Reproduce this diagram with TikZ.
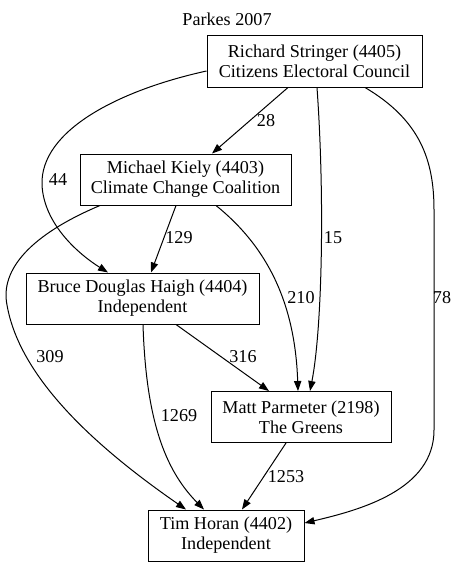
\documentclass[tikz,border=0pt]{standalone}
\usepackage{fontspec}
\setmainfont{Liberation Serif}
\usetikzlibrary{calc,arrows.meta}
\tikzset{
cand/.style = {draw, rectangle, align=center, line width=0.75pt, minimum height=51*0.75pt, inner sep=0pt, font=\fontsize{13.6}{15}\selectfont},
vote/.style = {line width=0.75pt, -{Triangle[length=7.5pt,width=5.5pt]}},
tally/.style = {font=\fontsize{13.6}{15}\selectfont}
}
\begin{document}
\begin{tikzpicture}[x=0.75pt,y=-0.75pt]
%
\fill[white] (0,0) rectangle (458,567);
\useasboundingbox (0,0) rectangle (458,567);
%
\node[tally] (title) at (227,19) {Parkes 2007};
%
\node[cand, minimum width=215*0.75pt] (RS) at (314.5,61.5) {Richard Stringer (4405)\\Citizens Electoral Council};
\node[cand, minimum width=211*0.75pt] (MK) at (185.5,179.5) {Michael Kiely (4403)\\Climate Change Coalition};
\node[cand, minimum width=233*0.75pt] (BDH) at (142.5,298.5) {Bruce Douglas Haigh (4404)\\Independent};
\node[cand, minimum width=180*0.75pt] (MP) at (301,417) {Matt Parmeter (2198)\\The Greens};
\node[cand, minimum width=156*0.75pt] (TH) at (226,535.5) {Tim Horan (4402)\\Independent};
%
% preferences
\draw[vote] ($(RS.south)+(-26.5,0)$) -- ($(MK.north)+(26.5,0)$);
\draw[vote] ($(RS.west)+(0,9.5)$) .. controls (120,90) and (40,130) .. (42,185)
  .. controls (44,225) and (80,255) .. ($(BDH.north)+(-34.5,0)$);
\draw[vote] ($(RS.south)+(2.5,0)$) .. controls (325,200) and (322,330) .. ($(MP.north)+(9,0)$);
\draw[vote] ($(RS.south)+(50.5,0)$) .. controls (420,120) and (434,160) .. (434,210) -- (434,430)
  .. controls (434,490) and (360,510) .. ($(TH.east)+(0,-12.5)$);
\draw[vote] ($(MK.south)+(-9.5,0)$) -- ($(BDH.north)+(8.5,0)$);
\draw[vote] ($(MK.south)+(30.5,0)$) .. controls (265,245) and (295,300) .. ($(MP.north)+(-3,0)$);
\draw[vote] ($(MK.south)+(-85.5,0)$) .. controls (30,235) and (0,270) .. (7,305)
  .. controls (20,380) and (100,450) .. ($(TH.north)+(-40,0)$);
\draw[vote] ($(BDH.south)+(33.5,0)$) -- ($(MP.north)+(-32,0)$);
\draw[vote] ($(BDH.south)+(0.5,0)$) .. controls (146,420) and (165,470) .. ($(TH.north)+(-22,0)$);
\draw[vote] ($(MP.south)+(-15,0)$) -- ($(TH.north)+(16,0)$);
%
\foreach \x/\y/\n in {266/121/28, 58/180/44, 333/238/15, 442/298/78, 179/238/129, 301/298/210, 50/357/309, 243/357/316, 179/416/1269, 286/477/1253}
  \node[tally] (v\n) at (\x,\y) {\n};
%
\end{tikzpicture}
\end{document}
